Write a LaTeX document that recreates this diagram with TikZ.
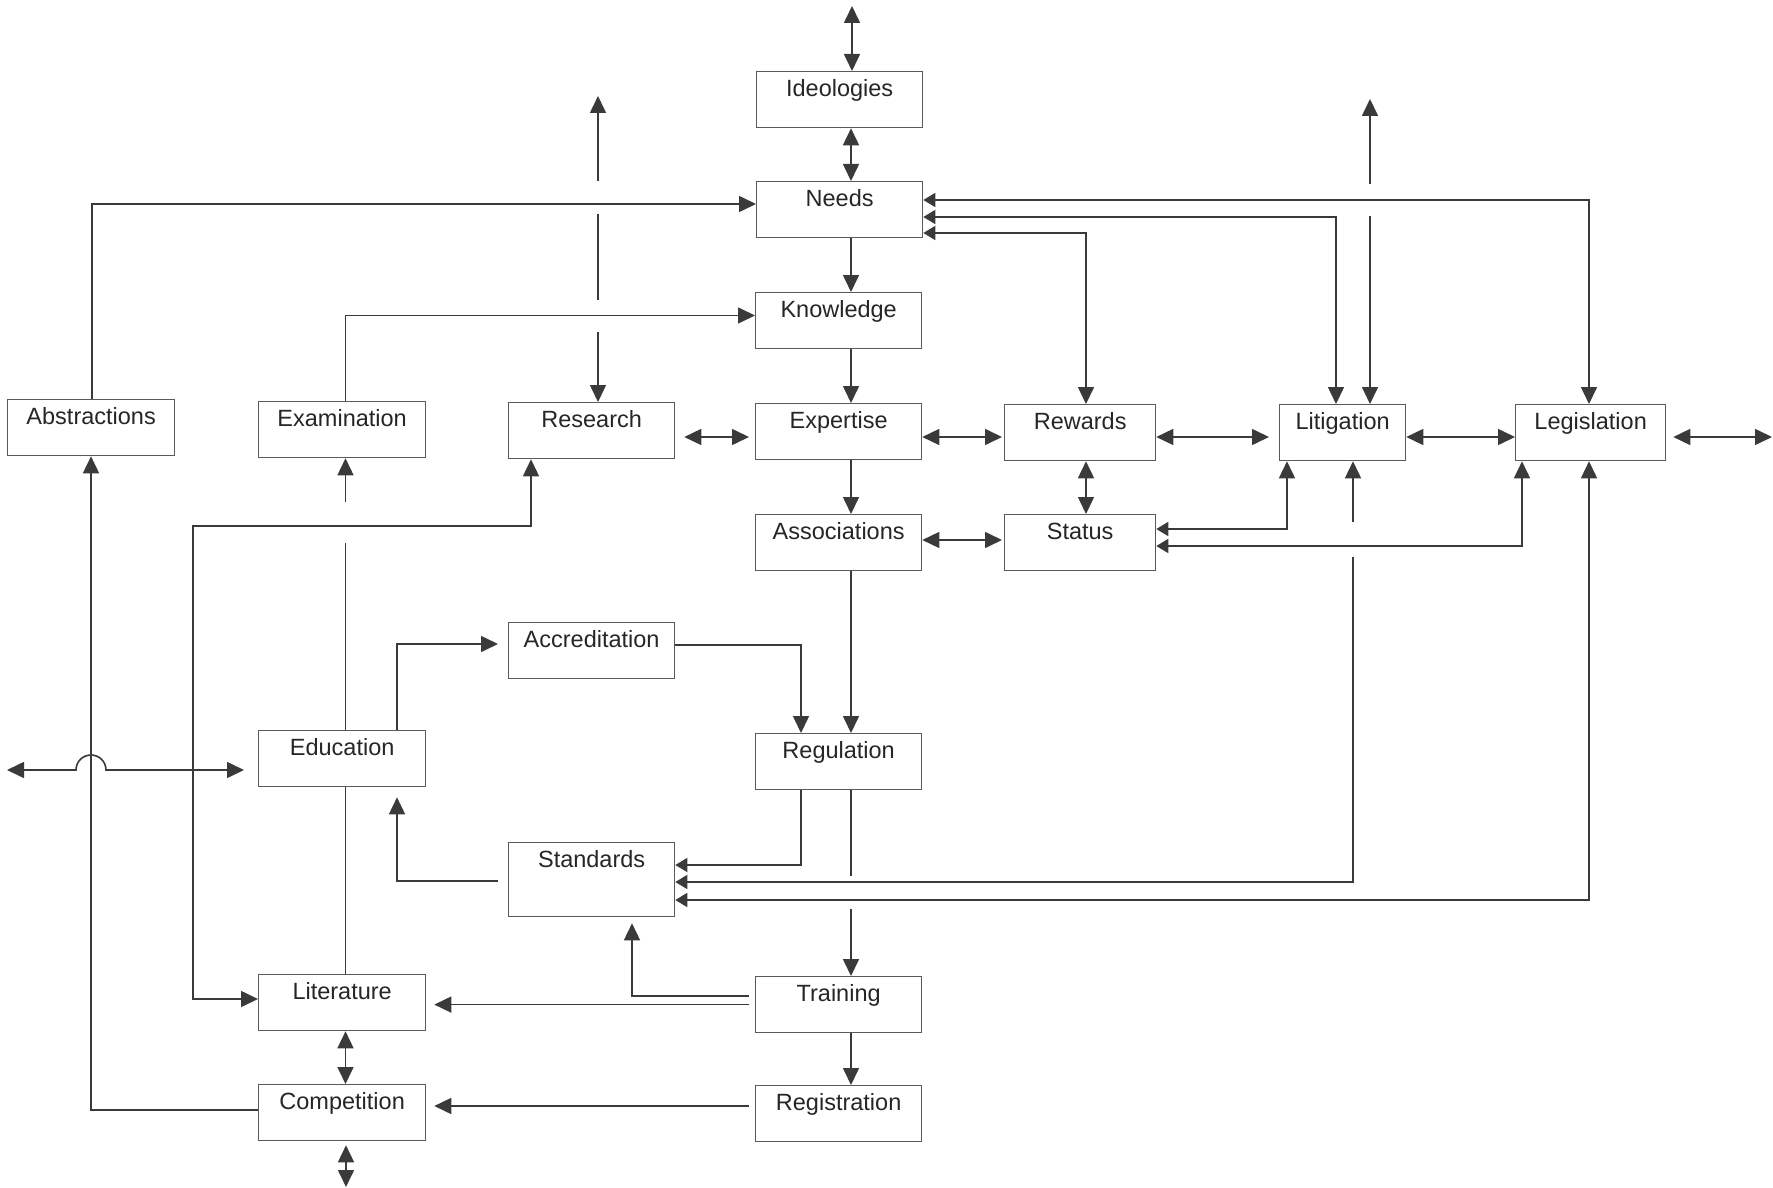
\documentclass[tikz,border=0pt]{standalone}
\usepackage{fontspec}
\newfontfamily\diagfam{Liberation Sans}
\usetikzlibrary{arrows.meta}
\definecolor{linec}{HTML}{3A3A3A}
\definecolor{boxc}{HTML}{5A5A5A}
\definecolor{txtc}{HTML}{262626}
\begin{document}
\begin{tikzpicture}[x=1pt,y=-1pt,
  box/.style={draw=boxc, line width=1.3pt, rectangle, inner xsep=0pt, inner ysep=7.5pt,
    text height=17pt, text depth=24pt, anchor=north west,
    font={\diagfam\fontsize{23.5pt}{28pt}\selectfont}, text=txtc},
  ln/.style={draw=linec, line width=1.6pt},
  arr/.style={ln, -{Triangle[length=17pt,width=16pt]}},
  dbl/.style={ln, {Triangle[length=17pt,width=16pt]}-{Triangle[length=17pt,width=16pt]}},
  dbls/.style={ln, {Triangle[length=12pt,width=14pt]}-{Triangle[length=17pt,width=16pt]}}]
\fill[white] (0,0) rectangle (1773,1188);
\useasboundingbox (0,0) rectangle (1773,1188);

% boxes
\node[box, minimum width=166pt] (ideo) at (756,71) {Ideologies};
\node[box, minimum width=166pt] (needs) at (756,181) {Needs};
\node[box, minimum width=166pt] (know) at (755,292) {Knowledge};
\node[box, minimum width=166pt] (expert) at (755,403) {Expertise};
\node[box, minimum width=166pt] (assoc) at (755,514) {Associations};
\node[box, minimum width=166pt] (regul) at (755,733) {Regulation};
\node[box, minimum width=166pt] (train) at (755,976) {Training};
\node[box, minimum width=166pt] (regis) at (755,1085) {Registration};
\node[box, minimum width=167pt] (abstr) at (7,399) {Abstractions};
\node[box, minimum width=167pt] (exam) at (258,401) {Examination};
\node[box, minimum width=166pt] (research) at (508,402) {Research};
\node[box, minimum width=151pt] (rewards) at (1004,404) {Rewards};
\node[box, minimum width=126pt] (litig) at (1279,404) {Litigation};
\node[box, minimum width=150pt] (legis) at (1515,404) {Legislation};
\node[box, minimum width=151pt] (status) at (1004,514) {Status};
\node[box, minimum width=166pt] (accred) at (508,622) {Accreditation};
\node[box, minimum width=167pt] (educ) at (258,730) {Education};
\node[box, minimum width=166pt, text depth=42pt] (stand) at (508,842) {Standards};
\node[box, minimum width=167pt] (liter) at (258,974) {Literature};
\node[box, minimum width=167pt] (compet) at (258,1084) {Competition};

% central column
\coordinate (topTip) at (852,6);
\draw[dbl] (topTip) -- (ideo.north -| topTip);
\coordinate (xC) at (851,0);
\draw[dbl] (ideo.south -| xC) -- (needs.north -| xC);
\draw[arr] (needs.south -| xC) -- (know.north -| xC);
\draw[arr] (know.south -| xC) -- (expert.north -| xC);
\draw[arr] (expert.south -| xC) -- (assoc.north -| xC);
\draw[arr] (assoc.south -| xC) -- (regul.north -| xC);
\coordinate (gA) at (851,876);
\coordinate (gB) at (851,909);
\draw[ln] (regul.south -| xC) -- (gA);
\draw[arr] (gB) -- (train.north -| xC);
\draw[arr] (train.south -| xC) -- (regis.north -| xC);

% abstractions -> needs
\coordinate (abY) at (0,204);
\coordinate (abX) at (92,0);
\draw[arr] (abstr.north -| abX) |- (needs.west |- abY);
% examination -> knowledge
\coordinate (exX) at (345.5,0);
\coordinate (exY) at (0,315.5);
\draw[arr] (exam.north -| exX) |- (know.west |- exY);
% research <-> outside
\coordinate (rsTop) at (598,96);
\coordinate (rs1) at (598,181);
\coordinate (rs2) at (598,214);
\coordinate (rs3) at (598,300);
\coordinate (rs4) at (598,332);
\draw[arr] (rs1) -- (rsTop);
\draw[ln] (rs2) -- (rs3);
\draw[arr] (rs4) -- (research.north -| rs4);

% horizontal row
\coordinate (rowY) at (0,437);
\draw[dbl, shorten <=9pt, shorten >=6pt] (research.east |- rowY) -- (expert.west |- rowY);
\draw[dbl, shorten >=2pt] (expert.east |- rowY) -- (rewards.west |- rowY);
\draw[dbl, shorten >=10pt] (rewards.east |- rowY) -- (litig.west |- rowY);
\draw[dbl] (litig.east |- rowY) -- (legis.west |- rowY);
\coordinate (rightTip) at (1772,437);
\draw[dbl, shorten <=7pt] (legis.east |- rowY) -- (rightTip);

% rewards <-> status, associations <-> status
\coordinate (rwX) at (1086,0);
\draw[dbl] (rewards.south -| rwX) -- (status.north -| rwX);
\coordinate (asY) at (0,540);
\draw[dbl, shorten >=2pt] (assoc.east |- asY) -- (status.west |- asY);

% needs <-> legislation, litigation, rewards
\coordinate (n1) at (0,200);
\coordinate (n2) at (0,217);
\coordinate (n3) at (0,233);
\coordinate (lgX) at (1589,0);
\coordinate (ltX) at (1336,0);
\draw[dbls] (needs.east |- n1) -| (legis.north -| lgX);
\draw[dbls] (needs.east |- n2) -| (litig.north -| ltX);
\draw[dbls] (needs.east |- n3) -| (rewards.north -| rwX);

% litigation <-> outside
\coordinate (ltTop) at (1370,99);
\coordinate (lt1) at (1370,184);
\coordinate (lt2) at (1370,216);
\draw[arr] (lt1) -- (ltTop);
\draw[arr] (lt2) -- (litig.north -| lt2);

% status <-> litigation, legislation
\coordinate (s1) at (0,529);
\coordinate (slX) at (1287,0);
\draw[dbls] (status.east |- s1) -| (litig.south -| slX);
\coordinate (s2) at (0,546);
\coordinate (sgX) at (1522,0);
\draw[dbls] (status.east |- s2) -| (legis.south -| sgX);

% standards <-> litigation, legislation
\coordinate (sl1) at (1353,522);
\coordinate (sl2) at (1353,557);
\coordinate (st1) at (0,882);
\draw[arr] (sl1) -- (litig.south -| sl1);
\draw[ln, -{Triangle[length=12pt,width=14pt]}] (sl2) |- (stand.east |- st1);
\coordinate (st2) at (0,900);
\draw[dbls] (stand.east |- st2) -| (legis.south -| lgX);

% regulation -> standards, accreditation -> regulation
\coordinate (rgX) at (801,0);
\coordinate (st0) at (0,865);
\draw[ln, -{Triangle[length=12pt,width=14pt]}] (regul.south -| rgX) |- (stand.east |- st0);
\coordinate (acY) at (0,645);
\draw[arr] (accred.east |- acY) -| (regul.north -| rgX);

% education -> accreditation, standards -> education
\coordinate (edX) at (397,0);
\coordinate (edY) at (0,644);
\draw[arr, shorten >=10pt] (educ.north -| edX) |- (accred.west |- edY);
\coordinate (sdY) at (0,881);
\draw[arr, shorten <=10pt, shorten >=10pt] (stand.west |- sdY) -| (educ.south -| edX);

% education -> examination, education - literature
\coordinate (e1) at (345.5,543);
\coordinate (e2) at (345.5,502);
\draw[ln] (educ.north -| exX) -- (e1);
\draw[arr] (e2) -- (exam.south -| exX);
\draw[ln] (educ.south -| exX) -- (liter.north -| exX);

% literature <-> research
\coordinate (lrY) at (0,999);
\coordinate (lrC) at (193,526);
\coordinate (lrX) at (531,0);
\draw[dbl] (liter.west |- lrY) -| (lrC) -| (research.south -| lrX);

% competition -> abstractions
\coordinate (cpY) at (0,1110);
\coordinate (cpX) at (91,0);
\draw[arr] (compet.west |- cpY) -| (abstr.south -| cpX);

% outside <-> education with line jump
\coordinate (leftTip) at (7,770);
\coordinate (jmpA) at (76,770);
\coordinate (edY2) at (0,770);
\draw[dbl, shorten >=14pt] (leftTip) -- (jmpA) arc[start angle=180, end angle=0, radius=15pt] -- (educ.west |- edY2);

% training / registration to the left
\coordinate (t1) at (0,1004.6);
\coordinate (t2) at (0,996);
\coordinate (tsX) at (632,0);
\coordinate (rgY) at (0,1106);
\draw[arr, shorten <=6pt, shorten >=8pt] (train.west |- t1) -- (liter.east |- t1);
\draw[arr, shorten <=6pt, shorten >=6pt] (train.west |- t2) -| (stand.south -| tsX);
\draw[arr, shorten <=6pt, shorten >=8pt] (regis.west |- rgY) -- (compet.east |- rgY);

% literature <-> competition <-> outside
\draw[dbl] (liter.south -| exX) -- (compet.north -| exX);
\coordinate (botTip) at (346,1187);
\draw[dbl, shorten <=4pt] (compet.south -| botTip) -- (botTip);
\end{tikzpicture}
\end{document}
